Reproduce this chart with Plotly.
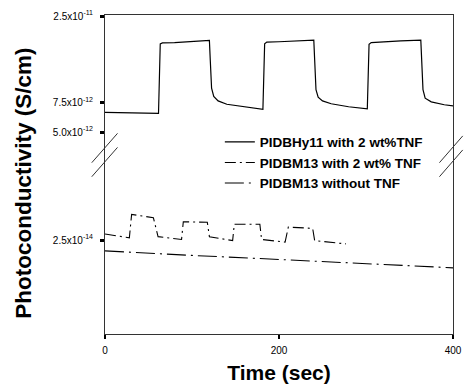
import plotly.graph_objects as go

# --- data -------------------------------------------------------------
# PIDBHy11 with 2 wt% TNF (upper, log axis)
t_hy11 = [0, 30, 60, 61.5, 63.5, 66, 80, 100, 120, 121, 122.5, 125, 130, 140, 160, 181.5,
          183.5, 186, 200, 220, 240, 241, 242.5, 245, 250, 260, 280, 301.5,
          303.5, 306, 320, 340, 363, 364, 365.5, 368, 375, 390, 400]
s_hy11 = [6.57e-12, 6.55e-12, 6.50e-12, 6.48e-12, 1.70e-11, 1.72e-11, 1.73e-11, 1.75e-11, 1.78e-11,
          1.36e-11, 9.2e-12, 8.2e-12, 7.7e-12, 7.35e-12, 7.08e-12, 6.86e-12,
          1.70e-11, 1.74e-11, 1.75e-11, 1.77e-11, 1.79e-11, 1.36e-11, 9.0e-12, 8.1e-12, 7.7e-12,
          7.4e-12, 7.1e-12, 6.91e-12,
          1.69e-11, 1.73e-11, 1.75e-11, 1.77e-11, 1.79e-11, 1.36e-11, 9.0e-12, 8.0e-12, 7.6e-12,
          7.3e-12, 7.18e-12]

# PIDBM13 with 2 wt% TNF (lower, log axis)
t_m13_tnf = [0, 28, 30.6, 55.6, 61, 88, 90, 117.6, 120, 146.7, 148.6, 178, 180, 207,
             210.7, 238.7, 241, 277]
s_m13_tnf = [2.72e-14, 2.58e-14, 3.57e-14, 3.41e-14, 2.62e-14, 2.52e-14, 3.22e-14, 3.20e-14,
             2.62e-14, 2.48e-14, 3.11e-14, 3.11e-14, 2.52e-14, 2.43e-14, 2.99e-14, 2.94e-14,
             2.48e-14, 2.37e-14]

# PIDBM13 without TNF (lower, log axis)
t_m13 = [0, 50, 100, 200, 300, 400]
s_m13 = [2.15e-14, 2.08e-14, 2.02e-14, 1.91e-14, 1.80e-14, 1.70e-14]

x_ticks = [0, 200, 400]
y_top_ticks = [5.0e-12, 7.5e-12, 2.5e-11]
y_top_text = ["5.0x10<sup>-12</sup>", "7.5x10<sup>-12</sup>", "2.5x10<sup>-11</sup>"]
y_bot_ticks = [2.5e-14]
y_bot_text = ["2.5x10<sup>-14</sup>"]

# --- figure -----------------------------------------------------------
FONT = "Liberation Sans, Arial, Helvetica, sans-serif"
AX = "#333333"
SPLIT = 0.561  # fraction of plot height where the broken axis switches segments

fig = go.Figure()
fig.add_trace(go.Scatter(x=t_hy11, y=s_hy11, xaxis="x2", yaxis="y2", mode="lines",
                         name="<b>PIDBHy11 with 2 wt%TNF</b>",
                         line=dict(color="black", width=1.2)))
fig.add_trace(go.Scatter(x=t_m13_tnf, y=s_m13_tnf, xaxis="x", yaxis="y", mode="lines",
                         name="<b>PIDBM13 with 2 wt% TNF</b>",
                         line=dict(color="black", width=1.1, dash="11px,4px,2px,4px")))
fig.add_trace(go.Scatter(x=t_m13, y=s_m13, xaxis="x", yaxis="y", mode="lines",
                         name="<b>PIDBM13 without TNF</b>",
                         line=dict(color="black", width=1.1, dash="19px,5px,2px,5px")))

common_x = dict(range=[0, 400], showgrid=False, zeroline=False, linecolor=AX, linewidth=1,
                automargin=False)
fig.update_layout(
    template="none",
    width=464, height=388,
    margin=dict(l=105, r=11, t=15, b=54, autoexpand=False),
    paper_bgcolor="white", plot_bgcolor="white",
    font=dict(family=FONT, color="black", size=10),
    showlegend=True,
    legend=dict(x=0.33, y=0.65, xanchor="left", yanchor="top",
                bgcolor="rgba(0,0,0,0)", borderwidth=0,
                font=dict(size=13.5, family=FONT), tracegroupgap=0),
    xaxis=dict(**common_x, anchor="y", showline=True, ticks="outside", ticklen=4,
               tickwidth=1.5, tickcolor="black", tickvals=x_ticks,
               tickfont=dict(size=10), ticklabelstandoff=3,
               title=dict(text="<b>Time (sec)</b>", font=dict(size=21), standoff=10)),
    xaxis2=dict(**common_x, anchor="y2", side="top", showline=True, ticks="",
                showticklabels=False, matches="x"),
    yaxis=dict(domain=[0, SPLIT], type="log", range=[-14.168, -13.090], automargin=False,
               showgrid=False, zeroline=False, showline=True, mirror=True,
               linecolor=AX, linewidth=1, ticks="outside", ticklen=4, tickwidth=2.5,
               tickcolor="black", tickvals=y_bot_ticks, ticktext=y_bot_text,
               tickfont=dict(size=10), ticklabelstandoff=5),
    yaxis2=dict(domain=[SPLIT, 1], type="log", range=[-11.4394, -10.596], automargin=False,
                showgrid=False, zeroline=False, showline=True, mirror=True,
                linecolor=AX, linewidth=1, ticks="outside", ticklen=4, tickwidth=2.5,
                tickcolor="black", tickvals=y_top_ticks, ticktext=y_top_text,
                tickfont=dict(size=10), ticklabelstandoff=5),
)

fig.add_annotation(text="<b>Photoconductivity (S/cm)</b>", textangle=-90,
                   xref="paper", yref="paper", x=-0.234, y=0.473,
                   xanchor="center", yanchor="middle",
                   showarrow=False, font=dict(size=22.5, family=FONT))

# break marks on both vertical axes
breaks = [
    (-0.038, 0.537, 0.036, 0.629), (-0.038, 0.493, 0.036, 0.585),
    (0.961, 0.537, 1.028, 0.621), (0.961, 0.493, 1.028, 0.577),
]
for x0, y0, x1, y1 in breaks:
    fig.add_shape(type="line", xref="paper", yref="paper", x0=x0, y0=y0, x1=x1, y1=y1,
                  line=dict(color=AX, width=1))

fig.write_html("out.html")
